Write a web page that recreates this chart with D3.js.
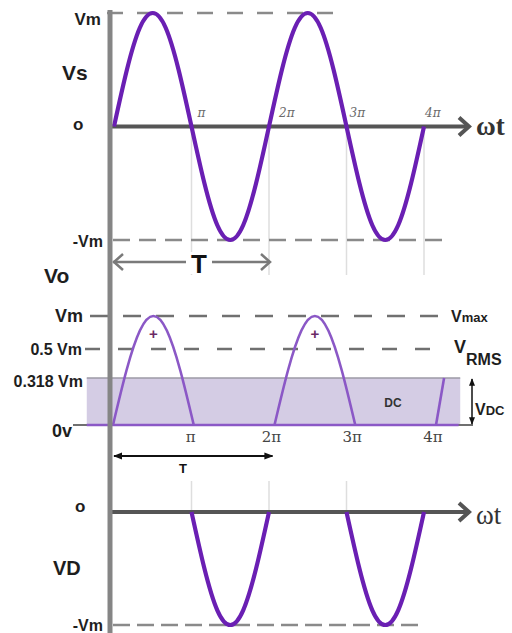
<!DOCTYPE html>
<html>
<head>
<meta charset="utf-8">
<script src="https://cdn.jsdelivr.net/npm/d3@7"></script>
<style>
  body { margin: 0; background: #fff; }
  svg { display: block; }
</style>
</head>
<body>
<script>
// Phase is measured in multiples of π; voltages in units of Vm.
const piTicks = [1, 2, 3, 4];
const piLabels = ["π", "2π", "3π", "4π"];
const sampleStep = 1 / 6; // π/6 between readings

// Source voltage Vs over two cycles
const vsValues = [0, 0.5, 0.87, 1, 0.87, 0.5, 0, -0.5, -0.87, -1, -0.87, -0.5,
                  0, 0.5, 0.87, 1, 0.87, 0.5, 0, -0.5, -0.87, -1, -0.87, -0.5, 0];

// Half-wave rectified output Vo, read against the output's level axis
const voHump = [0, 0.365, 0.78, 1, 0.78, 0.365, 0];
const voHumpStarts = [0, 2];
const voTail = [[4, 0], [4.1, 0.318]];

// Diode voltage VD: negative half cycles only
const vdDip = [0, -0.5, -0.87, -1, -0.87, -0.5, 0];
const vdDipStarts = [1, 3];

// Output reference levels
const voLevels = [1, 0.5, 0.318, 0];
const voLevelLabels = ["Vm", "0.5 Vm", "0.318 Vm", "0v"];
const dcLevel = 0.318;

const W = 512, H = 633;
const FONT = "'Liberation Sans', Arial, sans-serif";
const PURPLE = "#6a1fb3";
const LIGHT_PURPLE = "#8b58c6";
const GRID = "#dedede";

const svg = d3.select("body").append("svg").attr("width", W).attr("height", H);

// ---------- scales ----------
const xTop = d3.scaleLinear([0, 4], [114, 424]);
const yTop = d3.scaleLinear([-1, 1], [240, 13]);
const xMid = d3.scaleLinear([0, 4], [113, 436]);
// the output's level axis is spaced by its labelled levels
const yMid = d3.scaleLinear(voLevels.slice().reverse(), [425, 378, 349, 316]);
const xBot = d3.scaleLinear([0, 4], [114, 424]);
const yBot = d3.scaleLinear([-1, 0], [625, 512]);

const axisX = 110;

// ---------- markers ----------
const defs = svg.append("defs");
defs.append("marker").attr("id", "arrowFill")
  .attr("viewBox", "0 0 10 10").attr("refX", 9).attr("refY", 5)
  .attr("markerWidth", 5).attr("markerHeight", 5).attr("orient", "auto-start-reverse")
  .append("path").attr("d", "M0,1 L10,5 L0,9 Z").attr("fill", "#111");

function lineGen(x, y) {
  return d3.line().x(d => x(d[0])).y(d => y(d[1])).curve(d3.curveNatural);
}
function segment(values, start) {
  return values.map((v, i) => [start + i * sampleStep, v]);
}

// ---------- grid lines ----------
svg.append("g").selectAll("line").data(piTicks).join("line")
  .attr("x1", d => xTop(d)).attr("x2", d => xTop(d))
  .attr("y1", yTop(0)).attr("y2", 275)
  .attr("stroke", GRID).attr("stroke-width", 1.5);
svg.append("g").selectAll("line").data(piTicks.slice(0, 3)).join("line")
  .attr("x1", d => xBot(d)).attr("x2", d => xBot(d))
  .attr("y1", 481).attr("y2", yBot(0))
  .attr("stroke", GRID).attr("stroke-width", 1.5);

// ---------- top panel: Vs ----------
svg.append("line").attr("x1", 107).attr("x2", xTop(2.98))
  .attr("y1", yTop(1)).attr("y2", yTop(1))
  .attr("stroke", "#8a8a8a").attr("stroke-width", 2.5).attr("stroke-dasharray", "16,14");
svg.append("line").attr("x1", 113).attr("x2", xTop(4.3))
  .attr("y1", yTop(-1)).attr("y2", yTop(-1))
  .attr("stroke", "#8a8a8a").attr("stroke-width", 2.5).attr("stroke-dasharray", "17,9");

// ωt axis
svg.append("line").attr("x1", axisX).attr("x2", 468)
  .attr("y1", yTop(0)).attr("y2", yTop(0))
  .attr("stroke", "#555").attr("stroke-width", 4);
svg.append("path")
  .attr("d", `M459,${yTop(0) - 9} L469,${yTop(0)} L459,${yTop(0) + 9}`)
  .attr("fill", "none").attr("stroke", "#555").attr("stroke-width", 4);
svg.append("text").attr("x", 476).attr("y", 135).text("ωt")
  .attr("font-family", "'Liberation Serif', 'DejaVu Serif', serif")
  .attr("font-weight", "bold").attr("font-size", 27).attr("fill", "#333");

svg.append("path").datum(segment(vsValues, 0))
  .attr("d", lineGen(xTop, yTop))
  .attr("fill", "none").attr("stroke", PURPLE).attr("stroke-width", 4.2);

svg.append("g").selectAll("text").data(piTicks).join("text")
  .attr("x", (d, i) => xTop(d) + [6, 10, 3, 1][i]).attr("y", 117)
  .text((d, i) => piLabels[i])
  .attr("font-family", "'DejaVu Serif', serif").attr("font-style", "italic")
  .attr("font-size", 12).attr("fill", "#6a6a6a");

// period arrow
const tY = 262;
svg.append("line").attr("x1", 113).attr("x2", xTop(2) + 1)
  .attr("y1", tY).attr("y2", tY)
  .attr("stroke", "#7a7a7a").attr("stroke-width", 2.5);
svg.append("path").attr("d", `M123,${tY - 8} L114,${tY} L123,${tY + 8}`)
  .attr("fill", "none").attr("stroke", "#7a7a7a").attr("stroke-width", 2.5);
svg.append("path").attr("d", `M${xTop(2) - 8},${tY - 8} L${xTop(2) + 1},${tY} L${xTop(2) - 8},${tY + 8}`)
  .attr("fill", "none").attr("stroke", "#7a7a7a").attr("stroke-width", 2.5);
svg.append("rect").attr("x", 186).attr("y", 252).attr("width", 26).attr("height", 22).attr("fill", "#fff");
svg.append("text").attr("x", 199).attr("y", 273).attr("text-anchor", "middle").text("T")
  .attr("font-family", FONT).attr("font-weight", "bold").attr("font-size", 26).attr("fill", "#111");

// left labels, top
function label(x, y, txt, size, anchor = "start") {
  return svg.append("text").attr("x", x).attr("y", y).text(txt)
    .attr("text-anchor", anchor)
    .attr("font-family", FONT).attr("font-weight", "bold")
    .attr("font-size", size).attr("fill", "#1e1e1e");
}
label(101, 25, "Vm", 17, "end");
label(62, 80, "Vs", 21);
label(73, 130, "o", 17);
label(103, 247, "-Vm", 16, "end");
label(44, 283, "Vo", 21);

// ---------- middle panel: Vo ----------
// DC band
svg.append("rect")
  .attr("x", xMid(-0.325)).attr("y", yMid(dcLevel))
  .attr("width", xMid(4.3) - xMid(-0.325)).attr("height", yMid(0) - yMid(dcLevel))
  .attr("fill", "#d4cce4");
svg.append("line").attr("x1", xMid(-0.325)).attr("x2", xMid(4.3))
  .attr("y1", yMid(dcLevel)).attr("y2", yMid(dcLevel))
  .attr("stroke", "#9d9aa6").attr("stroke-width", 1.5);

// level dashes
svg.append("line").attr("x1", 90).attr("x2", 446)
  .attr("y1", yMid(1)).attr("y2", yMid(1))
  .attr("stroke", "#707070").attr("stroke-width", 2.5).attr("stroke-dasharray", "18,15");
svg.append("line").attr("x1", 85).attr("x2", 446)
  .attr("y1", yMid(0.5)).attr("y2", yMid(0.5))
  .attr("stroke", "#707070").attr("stroke-width", 2.5).attr("stroke-dasharray", "15,18");
// zero line
svg.append("line").attr("x1", 73).attr("x2", 473)
  .attr("y1", yMid(0)).attr("y2", yMid(0))
  .attr("stroke", "#707070").attr("stroke-width", 2);

// rectified output
svg.append("line").attr("x1", xMid(-0.325)).attr("x2", xMid(4.28))
  .attr("y1", yMid(0)).attr("y2", yMid(0))
  .attr("stroke", LIGHT_PURPLE).attr("stroke-width", 2.6);
voHumpStarts.forEach(s => {
  svg.append("path").datum(segment(voHump, s))
    .attr("d", lineGen(xMid, yMid))
    .attr("fill", "none").attr("stroke", LIGHT_PURPLE).attr("stroke-width", 2.6);
});
svg.append("path").datum(voTail)
  .attr("d", d3.line().x(d => xMid(d[0])).y(d => yMid(d[1])))
  .attr("fill", "none").attr("stroke", LIGHT_PURPLE).attr("stroke-width", 2.6);

// polarity marks at the peaks
svg.append("g").selectAll("text").data(voHumpStarts).join("text")
  .attr("x", d => xMid(d + 0.5)).attr("y", 339).attr("text-anchor", "middle")
  .text("+").attr("font-family", FONT).attr("font-size", 15).attr("font-weight", "bold")
  .attr("fill", "#6b2a66");

svg.append("text").attr("x", 393).attr("y", 407).attr("text-anchor", "middle").text("DC")
  .attr("font-family", FONT).attr("font-weight", "bold").attr("font-size", 12).attr("fill", "#333");

// level labels
const levelBaselines = [322, 355, 387, 437];
const levelRight = [83, 82, 83, 72];
const levelSizes = [18, 16, 16, 18];
voLevels.forEach((v, i) => label(levelRight[i], levelBaselines[i], voLevelLabels[i], levelSizes[i], "end"));

// right-hand labels
function subLabel(x, y, main, sub, mainSize, subSize, subDy) {
  const t = svg.append("text").attr("x", x).attr("y", y)
    .attr("font-family", FONT).attr("font-weight", "bold").attr("fill", "#1e1e1e");
  t.append("tspan").attr("font-size", mainSize).text(main);
  t.append("tspan").attr("font-size", subSize).attr("dy", subDy).text(sub);
}
subLabel(451, 322, "V", "max", 16, 13, 0);
subLabel(454, 353, "V", "RMS", 18, 16, 12);
subLabel(475, 415, "V", "DC", 16, 13, 0);

// V_DC span arrow
svg.append("line").attr("x1", 472).attr("x2", 472)
  .attr("y1", yMid(dcLevel) + 1).attr("y2", yMid(0) - 1)
  .attr("stroke", "#111").attr("stroke-width", 1.5)
  .attr("marker-start", "url(#arrowFill)").attr("marker-end", "url(#arrowFill)");

// π labels
svg.append("g").selectAll("text").data(piTicks).join("text")
  .attr("x", d => xMid(d) - 3).attr("y", 442).attr("text-anchor", "middle")
  .text((d, i) => piLabels[i])
  .attr("font-family", "'DejaVu Serif', serif").attr("font-size", 15).attr("fill", "#444");

// period arrow
svg.append("line").attr("x1", 114).attr("x2", xMid(2) - 2)
  .attr("y1", 456).attr("y2", 456)
  .attr("stroke", "#111").attr("stroke-width", 1.8)
  .attr("marker-start", "url(#arrowFill)").attr("marker-end", "url(#arrowFill)");
svg.append("text").attr("x", 183).attr("y", 473).attr("text-anchor", "middle").text("T")
  .attr("font-family", FONT).attr("font-weight", "bold").attr("font-size", 13).attr("fill", "#111");

// ---------- bottom panel: VD ----------
svg.append("line").attr("x1", 113).attr("x2", xBot(4))
  .attr("y1", yBot(-1)).attr("y2", yBot(-1))
  .attr("stroke", "#8a8a8a").attr("stroke-width", 2.5).attr("stroke-dasharray", "17,7");

svg.append("line").attr("x1", axisX).attr("x2", 468)
  .attr("y1", yBot(0)).attr("y2", yBot(0))
  .attr("stroke", "#555").attr("stroke-width", 4);
svg.append("path")
  .attr("d", `M459,${yBot(0) - 9} L469,${yBot(0)} L459,${yBot(0) + 9}`)
  .attr("fill", "none").attr("stroke", "#555").attr("stroke-width", 4);
svg.append("text").attr("x", 476).attr("y", 524).text("ωt")
  .attr("font-family", "'Liberation Serif', 'DejaVu Serif', serif")
  .attr("font-size", 27).attr("fill", "#333");

vdDipStarts.forEach(s => {
  svg.append("path").datum(segment(vdDip, s))
    .attr("d", lineGen(xBot, yBot))
    .attr("fill", "none").attr("stroke", PURPLE).attr("stroke-width", 4.2);
});

label(75, 512, "o", 17);
label(53, 575, "VD", 20);
label(103, 631, "-Vm", 16, "end");

// ---------- main vertical axis ----------
svg.append("line").attr("x1", axisX).attr("x2", axisX)
  .attr("y1", 10).attr("y2", H)
  .attr("stroke", "#858585").attr("stroke-width", 5);
</script>
</body>
</html>
